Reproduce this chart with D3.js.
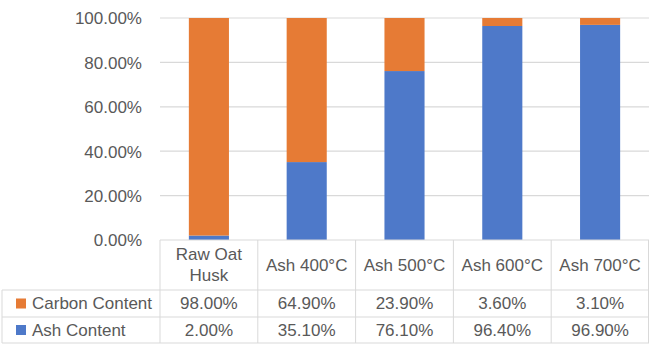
<!DOCTYPE html>
<html><head><meta charset="utf-8">
<script src="https://cdn.jsdelivr.net/npm/d3@7"></script>
<style>
body{margin:0;background:#fff;}
svg text{font-family:"Liberation Sans",Arial,sans-serif;fill:#595959;}
</style></head>
<body><svg id="c" width="649" height="344"></svg>
<script>
const categories = [["Raw Oat","Husk"],["Ash 400°C"],["Ash 500°C"],["Ash 600°C"],["Ash 700°C"]];
const seriesNames = ["Carbon Content","Ash Content"];
const carbon = [98.00, 64.90, 23.90, 3.60, 3.10];
const ash = [2.00, 35.10, 76.10, 96.40, 96.90];
const yTicks = [0,20,40,60,80,100];
const colors = {"Carbon Content":"#E67B35","Ash Content":"#4E79C9"};

(function(){
const FS="17px";
const svg = d3.select("#c");
const keys = categories.map(c=>c.join(" "));
const pLeft=160, pRight=649, pTop=18, pBottom=240;
const x = d3.scaleBand().domain(keys).range([pLeft,pRight]).paddingInner(0.59).paddingOuter(0.295);
const col = d3.scaleBand().domain(keys).range([pLeft,pRight]).padding(0);
const y = d3.scaleLinear().domain([0,100]).range([pBottom,pTop]);

svg.append("g").selectAll("line").data(yTicks.filter(t=>t>0)).join("line")
  .attr("x1",pLeft).attr("x2",pRight).attr("y1",d=>y(d)).attr("y2",d=>y(d))
  .attr("stroke","#D9D9D9").attr("stroke-width",1.2);

const yAxis = d3.axisLeft(y).tickValues(yTicks).tickFormat(d=>d.toFixed(2)+"%").tickSize(0).tickPadding(18);
const ga = svg.append("g").attr("transform",`translate(${pLeft},0)`).call(yAxis);
ga.select(".domain").remove();
ga.attr("font-family",null).attr("font-size",null);
ga.selectAll("text").style("font-size",FS).attr("fill","#595959").attr("dy","0.35em");

const rows = keys.map((k,i)=>({key:k,"Ash Content":ash[i],"Carbon Content":carbon[i]}));
const stack = d3.stack().keys(["Ash Content","Carbon Content"])(rows);
svg.append("g").selectAll("g").data(stack).join("g").attr("fill",d=>colors[d.key])
  .selectAll("rect").data(d=>d).join("rect")
  .attr("x",d=>x(d.data.key)).attr("width",x.bandwidth())
  .attr("y",d=>y(d[1])).attr("height",d=>y(d[0])-y(d[1]));

const gridC="#D9D9D9";
const hTop=240, hBot=290, r1=317, r2=343, tLeft=2;
const tg = svg.append("g");
tg.append("line").attr("x1",pLeft).attr("x2",pRight).attr("y1",hTop).attr("y2",hTop).attr("stroke",gridC);
[hBot,r1,r2].forEach(yy=>tg.append("line").attr("x1",tLeft).attr("x2",pRight).attr("y1",yy).attr("y2",yy).attr("stroke",gridC));
const vx = keys.map(k=>col(k)).concat([pRight-0.5]);
vx.forEach(xx=>tg.append("line").attr("x1",xx).attr("x2",xx).attr("y1",hTop).attr("y2",r2).attr("stroke",gridC));
tg.append("line").attr("x1",tLeft).attr("x2",tLeft).attr("y1",hBot).attr("y2",r2).attr("stroke",gridC);

categories.forEach((c,i)=>{
  const cx = col(keys[i])+col.bandwidth()/2;
  const lh=21, mid=(hTop+hBot)/2;
  c.forEach((line,j)=>{
    tg.append("text").attr("x",cx).attr("y",mid+(j-(c.length-1)/2)*lh).attr("dy","0.35em")
      .attr("text-anchor","middle").style("font-size",FS).text(line);
  });
});
const rowData=[["Carbon Content",carbon,hBot,r1],["Ash Content",ash,r1,r2]];
rowData.forEach(([name,vals,a,b])=>{
  const my=(a+b)/2;
  tg.append("rect").attr("x",16).attr("y",my-5).attr("width",10).attr("height",10).attr("fill",colors[name]);
  tg.append("text").attr("x",32).attr("y",my).attr("dy","0.35em").style("font-size",FS).text(name);
  vals.forEach((v,i)=>{
    tg.append("text").attr("x",col(keys[i])+col.bandwidth()/2).attr("y",my).attr("dy","0.35em")
      .attr("text-anchor","middle").style("font-size",FS).text(v.toFixed(2)+"%");
  });
});
})();
</script></body></html>
